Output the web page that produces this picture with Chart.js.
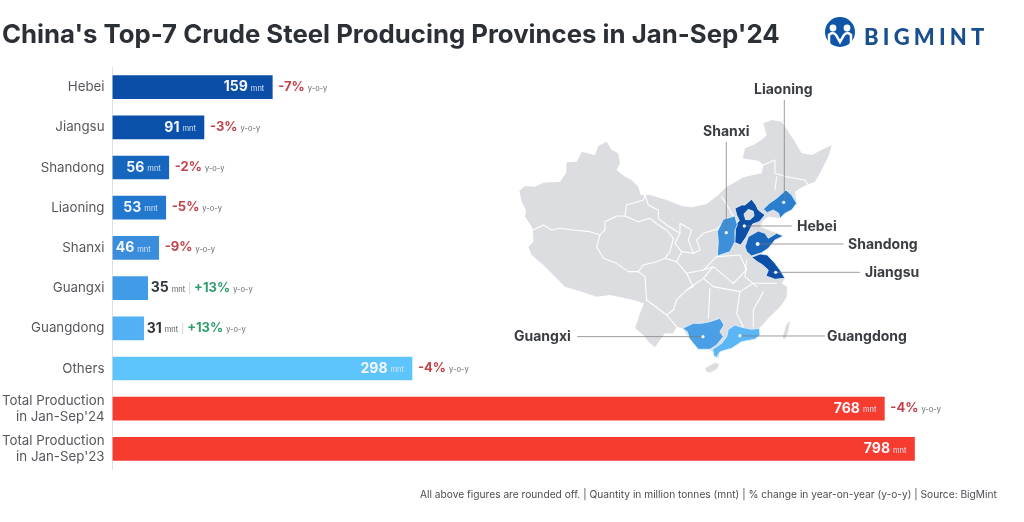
<!DOCTYPE html>
<html>
<head>
<meta charset="utf-8">
<title>China's Top-7 Crude Steel Producing Provinces</title>
<script src="https://cdn.jsdelivr.net/npm/chart.js@4"></script>
<style>
    html, body { margin: 0; padding: 0; background: #fff; }
    #wrap { position: relative; width: 1024px; height: 522px; overflow: hidden; font-family: Inter, sans-serif; }
    #chart { position: absolute; left: 0; top: 0; }
    #map { position: absolute; left: 0; top: 0; }
    #title { position: absolute; left: 2px; top: 18px; font-size: 25.75px; font-weight: 700; color: #2b2f36; white-space: nowrap; letter-spacing: 0; }
    #brand { position: absolute; left: 864px; top: 23px; font-family: Lato, sans-serif; font-size: 22px; font-weight: 900; color: #1a4f8f; letter-spacing: 4.2px; }
    #note { position: absolute; left: 420px; top: 488px; font-size: 10.2px; color: #4a4d52; white-space: nowrap; }
    #map text { font-family: Inter, sans-serif; font-size: 14px; font-weight: 700; fill: #3a3d42; }
</style>
</head>
<body>
<div id="wrap">
    <canvas id="chart" width="1024" height="522"></canvas>

    <svg id="map" width="1024" height="522" viewBox="0 0 1024 522">
        <!-- logo -->
        <circle cx="840" cy="32" r="15" fill="#0f56a8"/>
        <circle cx="833" cy="28" r="3.4" fill="#fff"/>
        <circle cx="847" cy="28" r="3.4" fill="#fff"/>
        <path d="M829 47 v-12 q4 -4 7 0 l4 7 l4 -7 q3 -4 7 0 v12" fill="none" stroke="#fff" stroke-width="2.5"/>

        <!-- map is traced in the 3x zoom coordinates -->
        <g transform="translate(500,70) scale(0.3333)">
            <path fill="#dcdde0" d="M58 362 L75 348 L105 350 L130 338 L180 335 L198 310 L200 277 L230 275 L245 245 L285 255 L295 228 L320 215 L335 240 L355 250 L360 280 L350 300 L375 320 L395 330 L415 350 L422 375 L450 375 L500 390 L545 408 L575 412 L620 402 L655 375 L680 350 L700 340 L730 322 L760 315 L785 310 L790 285 L775 272 L745 268 L728 265 L735 235 L760 225 L785 210 L800 195 L790 160 L815 150 L845 155 L865 185 L885 215 L905 250 L935 255 L965 240 L995 225 L985 260 L965 300 L945 335 L920 345 L900 355 L885 365 L890 400 L855 430 L840 445 L805 440 L790 450 L780 470 L850 498 L825 510 L805 535 L785 548 L825 580 L855 625 L845 640 L862 650 L860 680 L845 705 L825 725 L805 745 L785 768 L725 815 L660 845 L655 865 L630 838 L595 838 L568 805 L548 775 L530 770 L520 790 L495 790 L480 810 L465 832 L445 815 L430 795 L405 775 L420 730 L432 700 L400 690 L330 675 L290 680 L245 665 L195 650 L165 620 L130 585 L95 555 L85 530 L100 515 L98 475 L75 440 L78 420 L65 395 Z"/>
            <path fill="#dcdde0" d="M848 805 L858 765 L870 752 L865 785 L855 808 Z"/>
            <path fill="#dcdde0" d="M615 895 L645 878 L658 882 L650 898 L630 908 L620 905 Z"/>
            <g fill="none" stroke="#fff" stroke-width="3.2" stroke-linejoin="round" stroke-linecap="round">
                <path d="M100 480 L130 465 L155 480 L180 475 L220 480 L270 485 L300 495 L315 480 L315 455 L350 438 L375 438 L415 455 L450 445 L475 465 L500 480 L520 505 L510 545 L495 565 L470 575 L430 585 L415 605 L385 605 L350 580 L310 565 L290 530 L300 495"/>
                <path d="M435 375 L430 390 L380 405 L375 438"/>
                <path d="M435 375 L445 405 L475 420 L475 445 L500 465 L540 490 L540 460 L575 480 L565 510 L580 550 L600 540 L590 510 L610 490 L650 478 L665 462"/>
                <path d="M540 490 L525 520 L545 545 L530 575 L495 565"/>
                <path d="M545 545 L580 550"/>
                <path d="M415 605 L435 620 L440 690"/>
                <path d="M530 575 L560 610 L610 600 L650 560"/>
                <path d="M610 600 L640 590 L610 625 L560 660 L530 690 L520 720 L500 735 L440 690"/>
                <path d="M560 610 L580 650 L560 660"/>
                <path d="M500 735 L530 770"/>
                <path d="M610 625 L640 650 L720 665 L760 640 L830 640"/>
                <path d="M630 655 L625 745"/>
                <path d="M720 665 L710 730 L730 770"/>
                <path d="M790 665 L760 720 L760 770"/>
                <path d="M650 560 L720 555 L740 600 L700 640"/>
                <path d="M740 570 L735 620 L770 650"/>
                <path d="M640 590 L700 640"/>
                <path d="M790 285 L825 270 L825 310 L860 320 L915 330 L925 345"/>
                <path d="M830 320 L825 360"/>
                <path d="M665 380 L690 420 L700 440"/>
            </g>

            <!-- provinces -->
            <g stroke="#e3f3fd" stroke-width="2.5" stroke-linejoin="round">
                <path fill="#2a7fce" d="M790 418 L808 400 L830 385 L858 360 L875 375 L890 400 L875 420 L855 430 L840 445 L836 430 L820 420 L802 428 Z"/>
                <path fill="#0d4ea6" fill-rule="evenodd" d="M705 415 L725 405 L735 405 L755 388 L768 405 L775 420 L795 435 L778 455 L758 462 L748 482 L738 502 L722 525 L703 517 L706 485 L703 468 L718 452 L710 435 Z M732 432 L745 418 L760 424 L762 438 L750 449 L737 449 Z"/>
                <path fill="#3d8fd9" d="M670 448 L705 438 L712 465 L705 480 L705 515 L690 545 L652 558 L655 515 L652 485 Z"/>
                <path fill="#1a66bb" d="M735 530 L745 500 L775 483 L795 490 L805 505 L830 490 L850 498 L825 510 L805 535 L785 548 L755 558 L740 545 Z"/>
                <path fill="#0d4ea6" d="M755 562 L780 552 L802 555 L825 580 L840 600 L855 625 L825 628 L798 618 L805 600 L788 585 L772 575 Z"/>
                <path fill="#4a9fe6" d="M548 775 L580 760 L605 760 L630 755 L660 745 L672 765 L660 785 L670 800 L650 825 L630 838 L595 838 L580 820 L568 805 L562 785 Z"/>
                <path fill="#5cb5f5" d="M685 778 L705 765 L725 772 L755 778 L778 775 L780 795 L765 808 L725 815 L695 835 L660 845 L652 858 L655 865 L642 858 L638 838 L665 820 L680 800 Z"/>
            </g>

            <!-- leader lines -->
            <g stroke="#777" stroke-width="2.2" fill="none">
                <path d="M853 90 V397"/>
                <path d="M679 216 V488"/>
                <path d="M733 468 H875"/>
                <path d="M773 522 H1030"/>
                <path d="M827 607 H1080"/>
                <path d="M232 800 H609"/>
                <path d="M720 798 H975"/>
            </g>
            <g fill="#eaf6ff">
                <circle cx="851" cy="397" r="5"/><circle cx="733" cy="468" r="5"/><circle cx="679" cy="488" r="5"/>
                <circle cx="773" cy="522" r="6"/><circle cx="827" cy="607" r="5"/><circle cx="609" cy="800" r="5"/><circle cx="720" cy="797" r="5"/>
            </g>
        </g>

        <text x="754" y="94">Liaoning</text>
        <text x="703" y="136">Shanxi</text>
        <text x="797" y="231">Hebei</text>
        <text x="848" y="249">Shandong</text>
        <text x="865" y="277">Jiangsu</text>
        <text x="514" y="341">Guangxi</text>
        <text x="827" y="341">Guangdong</text>
    </svg>

    <div id="title">China's Top-7 Crude Steel Producing Provinces in Jan-Sep'24</div>
    <div id="brand">BIGMINT</div>
    <div id="note">All above figures are rounded off. | Quantity in million tonnes (mnt) | % change in year-on-year (y-o-y) | Source: BigMint</div>
</div>

<script>
const categories = ["Hebei", "Jiangsu", "Shandong", "Liaoning", "Shanxi", "Guangxi", "Guangdong", "Others",
    ["Total Production", "in Jan-Sep'24"], ["Total Production", "in Jan-Sep'23"]];
const production = [159, 91, 56, 53, 46, 35, 31, 298, 768, 798];
const changes = ["-7%", "-3%", "-2%", "-5%", "-9%", "+13%", "+13%", "-4%", "-4%", null];
const barColors = ["#0b4ea8", "#0b50ab", "#1766be", "#2277cf", "#3a8cdc", "#429be6", "#52b0f5", "#5ec4fc", "#f63b2f", "#f63b2f"];

const FONT = "Inter, sans-serif";

// value and y-o-y labels, placed from the bar elements
const barLabels = {
    id: "barLabels",
    afterDatasetsDraw(chart) {
        const ctx = chart.ctx;
        chart.getDatasetMeta(0).data.forEach((bar, i) => {
            const val = String(production[i]);
            const inside = production[i] >= 40;
            const y = bar.y;
            ctx.save();
            ctx.textBaseline = "middle";
            ctx.textAlign = "left";

            ctx.font = "700 14px " + FONT;
            const valW = ctx.measureText(val).width;
            ctx.font = "400 7.5px " + FONT;
            const unitW = ctx.measureText("mnt").width;

            let x = inside ? bar.x - 8 - unitW - 3 - valW : bar.x + 3;
            ctx.font = "700 14px " + FONT;
            ctx.fillStyle = inside ? "#f4f8fc" : "#33363b";
            ctx.fillText(val, x, y);
            x += valW + 3;
            ctx.font = "400 7.5px " + FONT;
            ctx.fillStyle = inside ? "#d8e6f5" : "#55585d";
            ctx.fillText("mnt", x, y + 1.5);
            x += unitW;

            if (changes[i]) {
                const up = changes[i][0] === "+";
                if (inside) {
                    x = bar.x + 6;
                } else {
                    // thin divider between value and change
                    x += 4;
                    ctx.fillStyle = "#d5d7da";
                    ctx.fillRect(x, y - 6, 1, 12);
                    x += 5;
                }
                ctx.font = "700 13px " + FONT;
                ctx.fillStyle = up ? "#2f9e6b" : "#c1444c";
                ctx.fillText(changes[i], x, y - 0.5);
                x += ctx.measureText(changes[i]).width + 3;
                ctx.font = "400 7.5px " + FONT;
                ctx.fillStyle = "#63666b";
                ctx.fillText("y-o-y", x, y + 1.5);
            }
            ctx.restore();
        });
    }
};

new Chart(document.getElementById("chart"), {
    type: "bar",
    data: {
        labels: categories,
        datasets: [{ data: production, backgroundColor: barColors, barThickness: 23 }]
    },
    options: {
        indexAxis: "y",
        responsive: false,
        animation: false,
        layout: { padding: { top: 67, bottom: 53, left: 0, right: 7 } },
        plugins: { legend: { display: false }, tooltip: { enabled: false } },
        scales: {
            x: { display: false, min: 0, max: 900 },
            y: {
                afterFit(scale) { scale.width = 112.5; },
                border: { color: "#dfe1e3", width: 1 },
                grid: { display: false, drawTicks: false },
                ticks: { color: "#55585d", padding: 8, font: { family: FONT, size: 13.3, lineHeight: 1.2 } }
            }
        }
    },
    plugins: [barLabels]
});
</script>
</body>
</html>
